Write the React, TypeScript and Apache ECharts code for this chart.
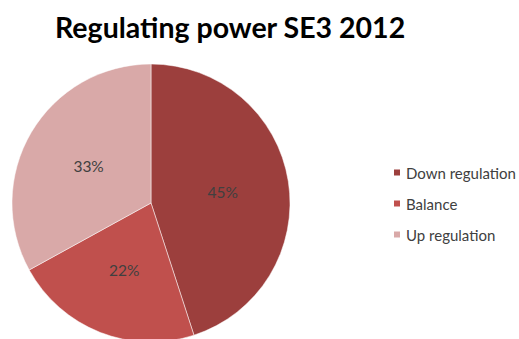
import React, { useEffect, useRef } from "react";
import * as echarts from "echarts";

const title = "Regulating power SE3 2012";
const categories = ["Down regulation", "Balance", "Up regulation"];
const values = [45, 22, 33];
const colors = ["#9C3F3D", "#C0504D", "#D9A9A8"];

export default function App() {
  const ref = useRef<HTMLDivElement>(null);
  useEffect(() => {
    if (!ref.current) return;
    const chart = echarts.init(ref.current, undefined, { renderer: "svg" });
    chart.setOption({
      animation: false,
      backgroundColor: "#ffffff",
      title: {
        text: title,
        left: 50,
        top: 7,
        textStyle: {
          fontFamily: "Lato",
          fontWeight: "bold",
          fontSize: 28.5,
          color: "#000000",
        },
      },
      legend: {
        orient: "vertical",
        left: 387,
        top: 159,
        icon: "rect",
        itemWidth: 8,
        itemHeight: 8,
        itemGap: 14,
        data: categories,
        textStyle: {
          fontFamily: "Lato",
          fontSize: 15,
          lineHeight: 17,
          color: "#404040",
        },
      },
      series: [
        {
          type: "pie",
          center: [151, 203],
          radius: [0, 139],
          startAngle: 90,
          clockwise: true,
          label: {
            show: true,
            position: "inside",
            formatter: "{d}%",
            fontFamily: "Lato",
            fontSize: 15.5,
            color: "#404040",
          },
          labelLine: { show: false },
          itemStyle: { borderColor: "#ffffff", borderWidth: 0.5 },
          emphasis: { disabled: true },
          data: categories.map((name, i) => ({
            name,
            value: values[i],
            itemStyle: { color: colors[i] },
          })),
        },
      ],
    });
    return () => chart.dispose();
  }, []);
  return (
    <div
      ref={ref}
      style={{ position: "fixed", left: 0, top: 0, width: 519, height: 339 }}
    />
  );
}
